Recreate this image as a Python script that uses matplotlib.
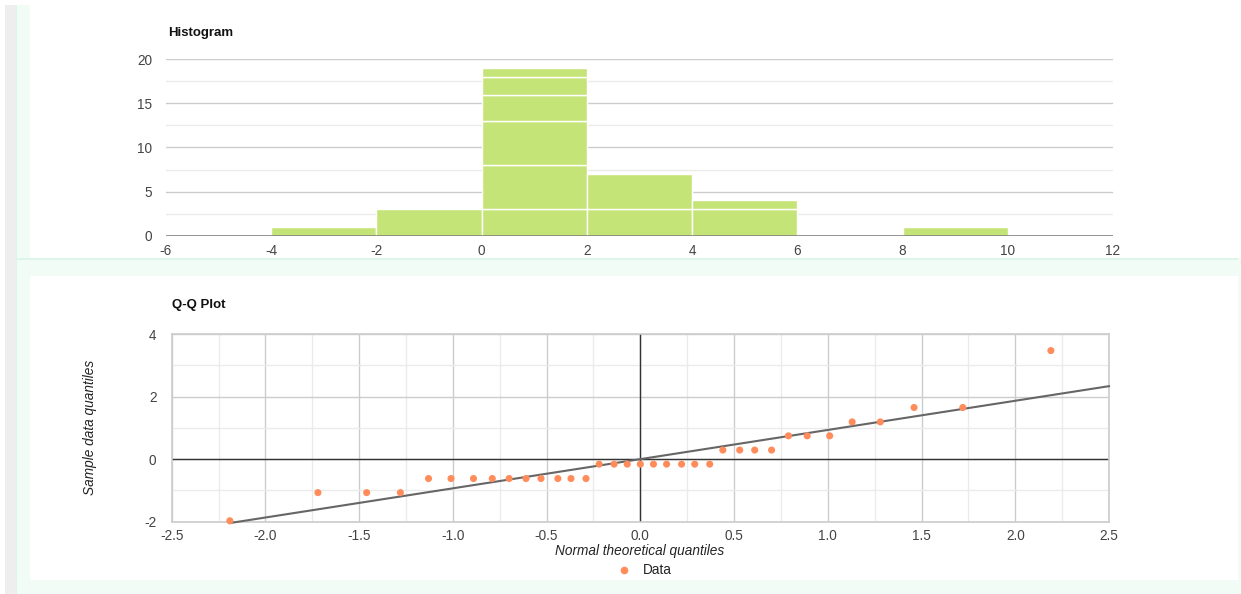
import matplotlib
matplotlib.use("Agg")
import matplotlib.pyplot as plt
from matplotlib.patches import Rectangle
from matplotlib.ticker import MultipleLocator

plt.rcParams['font.family'] = ['Liberation Sans', 'DejaVu Sans']
plt.rcParams['axes.unicode_minus'] = False

# ---------------- data ----------------
# Histogram: bin left edges (width 2) and the stacked item groups drawn in each bin
hist_bin_left = [-4, -2, 0, 2, 4, 8]
hist_bin_width = 2
hist_segments = [[1], [3], [3, 5, 5, 3, 2, 1], [3, 4], [3, 1], [1]]
hist_xticks = [-6, -4, -2, 0, 2, 4, 6, 8, 10, 12]
hist_yticks = [0, 5, 10, 15, 20]

# Q-Q plot: normal theoretical quantiles vs sample data quantiles
qq_theoretical = [-2.19, -1.72, -1.46, -1.28, -1.13, -1.01, -0.89, -0.79, -0.70,
                  -0.61, -0.53, -0.44, -0.37, -0.29, -0.22, -0.14, -0.07, 0.00,
                  0.07, 0.14, 0.22, 0.29, 0.37, 0.44, 0.53, 0.61, 0.70, 0.79,
                  0.89, 1.01, 1.13, 1.28, 1.46, 1.72, 2.19]
qq_sample = [-1.97, -1.07, -1.07, -1.07, -0.62, -0.62, -0.62, -0.62, -0.62,
             -0.62, -0.62, -0.62, -0.62, -0.62, -0.16, -0.16, -0.16, -0.16,
             -0.16, -0.16, -0.16, -0.16, -0.16, 0.29, 0.29, 0.29, 0.29, 0.745,
             0.745, 0.745, 1.19, 1.19, 1.65, 1.65, 3.47]
trend_slope = 0.933
trend_intercept = 0.0
trend_x = [-2.19, 2.5]
qq_xticks = [-2.5, -2.0, -1.5, -1.0, -0.5, 0.0, 0.5, 1.0, 1.5, 2.0, 2.5]
qq_yticks = [-2, 0, 2, 4]

BAR = '#c5e478'
DOT = '#ff8c5a'
TICK = '#444444'
FS = 9.8
W, H = 1241, 594

fig = plt.figure(figsize=(W / 100, H / 100), dpi=100)
fig.patch.set_facecolor('white')

def px_rect(x0, y0, x1, y1, **kw):
    fig.patches.append(Rectangle((x0 / W, 1 - y1 / H), (x1 - x0) / W, (y1 - y0) / H,
                                 transform=fig.transFigure, figure=fig, **kw))

# page background decorations
px_rect(16, 5, 30, 594, facecolor='#f2fcf7', edgecolor='none', zorder=0)
px_rect(16, 258, 1238, 276, facecolor='#f2fcf7', edgecolor='none', zorder=0)
px_rect(16, 580, 1238, 594, facecolor='#f2fcf7', edgecolor='none', zorder=0)
px_rect(1238, 258, 1241, 594, facecolor='#f2fcf7', edgecolor='none', zorder=0)
px_rect(16, 258, 1238, 259.5, facecolor='#dff5ea', edgecolor='none', zorder=0)
px_rect(16, 5, 17, 594, facecolor='#dff5ea', edgecolor='none', zorder=0)
px_rect(5, 5, 16, 594, facecolor='#eeeeee', edgecolor='none', zorder=0)

# ---------------- histogram ----------------
hx0, hx1, hy0, hy1 = 166, 1113, 59.3, 235.7
ax1 = fig.add_axes([hx0 / W, 1 - hy1 / H, (hx1 - hx0) / W, (hy1 - hy0) / H])
ax1.set_xlim(-6, 12)
ax1.set_ylim(0, 20)
for s in ax1.spines.values():
    s.set_visible(False)
ax1.yaxis.set_minor_locator(MultipleLocator(2.5))
ax1.set_yticks(hist_yticks)
ax1.set_xticks(hist_xticks)
ax1.grid(axis='y', which='major', color='#cccccc', lw=1)
ax1.grid(axis='y', which='minor', color='#ebebeb', lw=1)
ax1.tick_params(which='both', length=0, colors=TICK, labelsize=FS)
ax1.tick_params(axis='y', pad=10)
ax1.tick_params(axis='x', pad=6)
ax1.set_axisbelow(True)
for left, segs in zip(hist_bin_left, hist_segments):
    bottom = 0
    for h in segs:
        ax1.bar(left, h, width=hist_bin_width, bottom=bottom, align='edge',
                color=BAR, edgecolor='white', linewidth=1, zorder=2)
        bottom += h
ax1.axhline(0, color='#777777', lw=1.8, zorder=3)
fig.text(168 / W, 1 - 33 / H, 'Histogram', fontsize=9.5, fontweight='bold',
         color='#111111', va='center', ha='left')

# ---------------- Q-Q plot ----------------
qx0, qx1, qy0, qy1 = 171.7, 1109, 334, 521.7
ax2 = fig.add_axes([qx0 / W, 1 - qy1 / H, (qx1 - qx0) / W, (qy1 - qy0) / H])
ax2.set_xlim(-2.5, 2.5)
ax2.set_ylim(-2, 4)
ax2.set_xticks(qq_xticks)
ax2.set_xticklabels([f'{v:.1f}' for v in qq_xticks])
ax2.set_yticks(qq_yticks)
ax2.xaxis.set_minor_locator(MultipleLocator(0.25))
ax2.yaxis.set_minor_locator(MultipleLocator(1))
ax2.grid(which='major', color='#cccccc', lw=1)
ax2.grid(which='minor', color='#ebebeb', lw=1)
ax2.set_axisbelow(True)
for s in ax2.spines.values():
    s.set_color('#cccccc')
    s.set_linewidth(1.2)
ax2.tick_params(which='both', length=0, colors=TICK, labelsize=FS)
ax2.tick_params(axis='y', pad=11)
ax2.tick_params(axis='x', pad=5)
ax2.axhline(0, color='#333333', lw=1, zorder=2)
ax2.axvline(0, color='#333333', lw=1, zorder=2)
ax2.plot(trend_x, [trend_slope * x + trend_intercept for x in trend_x],
         color='#666666', lw=1.5, zorder=3, clip_on=False)
ax2.scatter(qq_theoretical, qq_sample, s=26, color=DOT, edgecolors='none',
            zorder=4, clip_on=False)
fig.text(172 / W, 1 - 305 / H, 'Q-Q Plot', fontsize=9.5, fontweight='bold',
         color='#111111', va='center', ha='left')
fig.text(90 / W, 1 - 427 / H, 'Sample data quantiles', fontsize=FS,
         style='italic', color='#222222', rotation=90, va='center', ha='center')
fig.text(640 / W, 1 - 551 / H, 'Normal theoretical quantiles', fontsize=FS,
         style='italic', color='#222222', va='center', ha='center')
fig.lines.append(plt.Line2D([624 / W], [1 - 570 / H], marker='o', markersize=5.5,
                            color=DOT, markeredgewidth=0, linestyle='none',
                            transform=fig.transFigure, figure=fig))
fig.text(643 / W, 1 - 570 / H, 'Data', fontsize=FS, color='#222222',
         va='center', ha='left')

fig.savefig('out.png', dpi=100, facecolor=fig.get_facecolor())
